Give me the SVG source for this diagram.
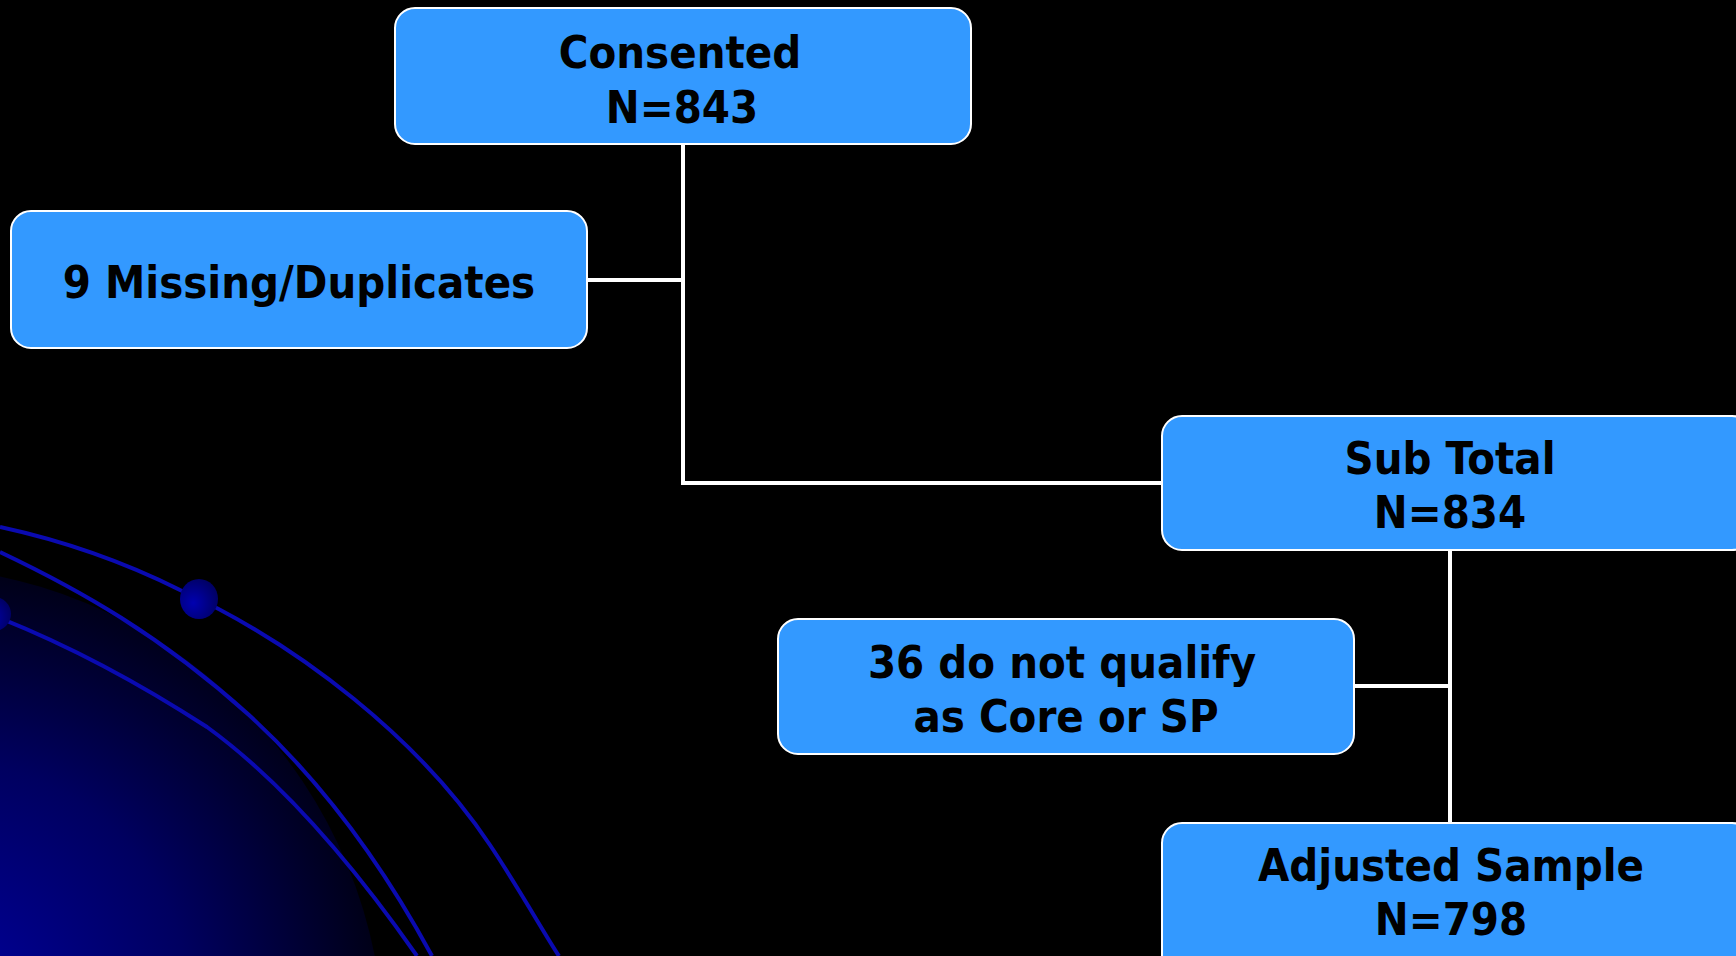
<svg xmlns="http://www.w3.org/2000/svg" width="1736" height="956" viewBox="0 0 1736 956">
  <defs>
    <radialGradient id="glow" gradientUnits="userSpaceOnUse" cx="-60" cy="1010" r="500">
      <stop offset="0" stop-color="#0000a0"/>
      <stop offset="0.5" stop-color="#000060"/>
      <stop offset="1" stop-color="#000000"/>
    </radialGradient>
    <radialGradient id="dot" cx="0.35" cy="0.6" r="0.7">
      <stop offset="0" stop-color="#0000b0"/>
      <stop offset="1" stop-color="#000060"/>
    </radialGradient>
    <style>
      .box { fill: #3399ff; stroke: #ffffff; stroke-width: 2; }
      .lbl { font-family: "DejaVu Sans Condensed", "DejaVu Sans", sans-serif; font-stretch: condensed; font-weight: bold; font-size: 45px; fill: #000000; text-anchor: middle; }
      .conn { stroke: #ffffff; stroke-width: 4; fill: none; }
      .orbit { stroke: #0a0ab0; stroke-width: 4; fill: none; }
    </style>
  </defs>
  <rect x="0" y="0" width="1736" height="956" fill="#000000"/>
  <g id="background">
    <circle cx="-100" cy="1050" r="484" fill="url(#glow)"/>
    <path class="orbit" d="M0,527 C60,540 120,560 180,590 C300,645 420,740 490,845 C520,890 545,935 559,956"/>
    <path class="orbit" d="M0,552 C80,590 160,635 249,715 C320,780 380,860 432,956"/>
    <path class="orbit" d="M0,618 C80,650 150,690 207,727 C280,780 350,860 417,956"/>
    <ellipse cx="199" cy="599" rx="19" ry="20" fill="url(#dot)"/>
    <ellipse cx="-6" cy="614" rx="17" ry="17" fill="url(#dot)"/>
  </g>
  <g id="connectors">
    <polyline class="conn" points="683,144 683,483 1162,483"/>
    <line class="conn" x1="587" y1="280" x2="683" y2="280"/>
    <line class="conn" x1="1450" y1="550" x2="1450" y2="823"/>
    <line class="conn" x1="1354" y1="686" x2="1450" y2="686"/>
  </g>
  <g id="consented">
    <rect class="box" x="395" y="8" width="576" height="136" rx="20"/>
    <text class="lbl" x="680" y="68">Consented</text>
    <text class="lbl" x="682" y="123">N=843</text>
  </g>
  <g id="missing">
    <rect class="box" x="11" y="211" width="576" height="137" rx="20"/>
    <text class="lbl" x="299" y="298">9 Missing/Duplicates</text>
  </g>
  <g id="subtotal">
    <rect class="box" x="1162" y="416" width="590" height="134" rx="20"/>
    <text class="lbl" x="1450" y="474">Sub Total</text>
    <text class="lbl" x="1450" y="528">N=834</text>
  </g>
  <g id="notqualify">
    <rect class="box" x="778" y="619" width="576" height="135" rx="20"/>
    <text class="lbl" x="1062" y="678">36 do not qualify</text>
    <text class="lbl" x="1066" y="732">as Core or SP</text>
  </g>
  <g id="adjusted">
    <rect class="box" x="1162" y="823" width="590" height="160" rx="20"/>
    <text class="lbl" x="1451" y="881">Adjusted Sample</text>
    <text class="lbl" x="1451" y="935">N=798</text>
  </g>
</svg>
